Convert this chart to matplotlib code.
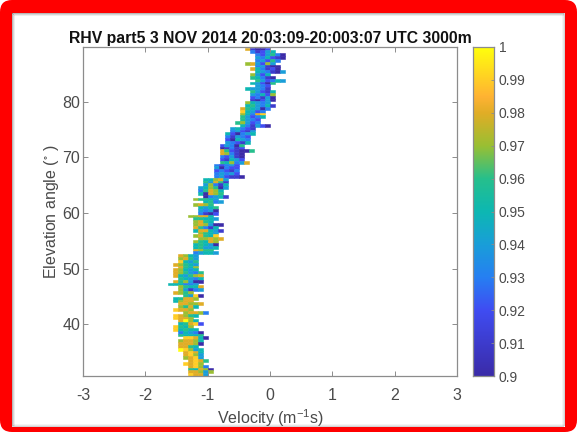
import numpy as np
import matplotlib
matplotlib.use("Agg")
import matplotlib.pyplot as plt
from matplotlib.colors import LinearSegmentedColormap, Normalize
from matplotlib.patches import FancyBboxPatch, Rectangle
from matplotlib.transforms import Affine2D

plt.rcParams['font.family'] = ['Liberation Sans', 'DejaVu Sans']
plt.rcParams['mathtext.default'] = 'regular'
plt.rcParams['axes.unicode_minus'] = False

W, H = 577, 432
title = "RHV part5 3 NOV 2014 20:03:09-20:003:07 UTC 3000m"
xlabel = "Velocity (m$^{-1}$s)"
ylabel = "Elevation angle ($^{\\circ}$ )"
x_ticks = [-3, -2, -1, 0, 1, 2, 3]
y_ticks = [40, 50, 60, 70, 80]
cbar_ticks = [0.90, 0.91, 0.92, 0.93, 0.94, 0.95, 0.96, 0.97, 0.98, 0.99, 1.00]
cbar_labels = ["0.9", "0.91", "0.92", "0.93", "0.94", "0.95", "0.96", "0.97", "0.98", "0.99", "1"]
top_elevation = 89.55
row_step = 0.51
cell_width = 0.08

# Left edge of each row (m^-1 s), top row first
row_left = [
    -0.40, -0.32, -0.24, -0.24, -0.24, -0.40, -0.24, -0.32, -0.24, -0.32,
    -0.32, -0.24, -0.32, -0.24, -0.40, -0.32, -0.32, -0.32, -0.32, -0.40,
    -0.40, -0.48, -0.48, -0.48, -0.48, -0.48, -0.56, -0.48, -0.64, -0.64,
    -0.72, -0.72, -0.72, -0.72, -0.81, -0.81,
    -0.81, -0.81, -0.81, -0.81, -0.81, -0.90, -0.90, -0.90, -0.90, -0.90,
    -1.07, -1.07, -1.07, -1.15, -1.15, -1.15, -1.07, -1.23, -1.07, -1.23,
    -1.15, -1.15, -1.15, -1.31, -1.23, -1.23, -1.23, -1.23, -1.23, -1.15,
    -1.23, -1.15, -1.23, -1.23, -1.23, -1.23, -1.23,
    -1.47, -1.47, -1.47, -1.55, -1.47,
    -1.56, -1.56, -1.56, -1.48, -1.56, -1.64, -1.48, -1.48, -1.56, -1.40,
    -1.56, -1.56, -1.48, -1.48, -1.56, -1.40, -1.56, -1.56, -1.48, -1.48,
    -1.56, -1.56, -1.48, -1.48, -1.40, -1.48, -1.48, -1.48, -1.48, -1.40,
    -1.40, -1.40, -1.32, -1.40, -1.32, -1.32, -1.32, -1.32,
]

# RHV of each cell x100, same row order
row_values = [
    [98, 91, 90, 90, 92], [93, 91, 92, 94, 95], [93, 92, 94, 96, 93, 90],
    [94, 93, 95, 92, 91, 90], [93, 94, 92, 96, 93], [97, 98, 94, 92, 97, 94],
    [93, 94, 91, 90, 90], [98, 95, 93, 91, 92, 90], [95, 94, 93, 91, 90, 94],
    [97, 94, 92, 95], [96, 95, 93, 91, 90], [96, 94, 92, 93, 95, 94],
    [95, 94, 92, 90, 96], [94, 93, 92], [95, 94, 94, 93, 91], [96, 94, 92, 91, 95],
    [94, 93, 95, 92, 97], [92, 93, 91, 94, 90], [91, 90, 92, 94, 90],
    [97, 95, 94, 93, 94], [95, 96, 94, 93, 95, 91], [98, 96, 95, 94, 90, 93],
    [99, 95, 94, 92, 93], [97, 95, 93, 98, 99], [96, 94, 92, 93, 95], [96, 94, 93, 92],
    [96, 97, 94, 92, 93], [95, 93, 91, 94, 92, 90], [94, 95, 93, 92, 91],
    [93, 94, 92, 91, 94], [95, 92, 90, 93, 94, 95], [93, 91, 94, 93, 92],
    [92, 90, 95, 94, 93], [94, 93, 92, 91, 95], [92, 94, 93, 90, 96],
    [90, 91, 93, 91, 92],
    [98, 96, 92, 91, 90, 90, 96], [98, 97, 93, 91, 90], [93, 92, 94, 91, 90],
    [92, 91, 95, 94, 92], [96, 95, 97, 93, 94, 98], [93, 92, 93, 94, 92],
    [94, 90, 93, 92, 92], [92, 93, 92, 91, 93], [93, 94, 93, 94, 92],
    [93, 94, 92, 91, 91, 90], [95, 95, 97, 98, 94], [96, 94, 98, 96, 91],
    [94, 97, 93, 91, 95], [94, 95, 97, 96, 90, 94], [93, 96, 98, 97, 95],
    [95, 90, 98, 97, 96], [90, 93, 94, 95, 91], [97, 96, 96, 95, 94],
    [95, 96, 93, 94], [97, 98, 97, 96], [95, 94, 95, 96], [94, 93, 94, 90],
    [93, 91, 90, 92], [97, 97, 98, 98, 95], [96, 96, 95, 95, 94], [97, 98, 96, 95],
    [97, 98, 97, 94, 90, 90], [98, 96, 93, 91, 95], [95, 98, 98, 95, 94, 91],
    [97, 96, 95, 94], [97, 98, 96, 95, 99], [97, 97, 98, 97, 98], [97, 96, 95, 98, 97],
    [95, 96, 95, 94, 90], [95, 96, 94, 94, 95],
    [98, 97, 96, 96],
    [93, 94, 95, 95, 94],
    [98, 97, 95, 94], [97, 98, 96, 94], [99, 95, 94, 96], [98, 97, 96, 95, 94],
    [98, 96, 95, 97],
    [98, 97, 95, 94, 95], [98, 97, 96, 94, 93, 96], [98, 95, 94, 96, 97, 98],
    [96, 95, 94, 93, 95], [98, 96, 97, 94, 90, 90], [95, 95, 95, 93, 93, 94],
    [97, 96, 95, 95, 98], [97, 94, 91, 93, 94], [98, 97, 96, 97],
    [96, 94, 99, 90], [95, 96, 98, 98, 97], [95, 97, 98, 98], [98, 98, 97, 97, 98],
    [97, 96, 98, 95], [99, 98, 98, 97], [97, 98, 98, 97, 93], [99, 98, 97, 96, 95],
    [99, 98, 98, 97], [98, 100, 97, 95], [95, 96, 98, 99, 92], [99, 96, 95, 97],
    [99, 95, 96, 95, 95], [93, 95, 94, 93, 90], [96, 95, 95, 95, 96],
    [99, 99, 98, 95, 90], [97, 98, 98, 97, 95], [98, 98, 98, 97, 90],
    [98, 98, 96, 95], [100, 99, 97, 94, 95], [98, 99, 98, 95], [98, 99, 97, 94],
    [97, 98, 99, 94], [98, 99, 98, 96], [99, 98, 99, 97], [98, 99, 97, 93],
    [96, 95, 98, 97, 90], [98, 98, 97, 94, 97], [99, 98, 98, 94],
]

cmap_stops = [0.0, 0.2, 0.3, 0.4, 0.5, 0.6, 0.7, 0.8, 0.85, 0.9, 1.0]
cmap_colors = [
    (0.23, 0.17, 0.66), (0.25, 0.30, 0.95), (0.15, 0.50, 0.95), (0.10, 0.62, 0.85),
    (0.05, 0.72, 0.70), (0.15, 0.75, 0.55), (0.60, 0.75, 0.20), (0.88, 0.68, 0.15),
    (1.00, 0.70, 0.20), (1.00, 0.80, 0.15), (1.00, 1.00, 0.05),
]
parula = LinearSegmentedColormap.from_list("parula_like", list(zip(cmap_stops, cmap_colors)), N=256)
norm = Normalize(0.9, 1.0)

fig = plt.figure(figsize=(W / 100, H / 100), dpi=100, facecolor="white")
px = Affine2D().scale(1 / W, -1 / H).translate(0, 1) + fig.transFigure

fig.add_artist(FancyBboxPatch((0, 0), W, H, boxstyle="round,pad=0,rounding_size=12",
                              fc="#ff0000", ec="none", transform=px, zorder=-5))
fig.add_artist(Rectangle((12, 13), 553, 414, fc="white", ec="none", transform=px, zorder=-4))
for i, a in enumerate([0.28, 0.16, 0.07]):
    fig.add_artist(Rectangle((12 + i, 13 + i), 1, 413 - i, fc="black", alpha=a, ec="none", transform=px, zorder=-3))
    fig.add_artist(Rectangle((12 + i, 13 + i), 552 - i, 1, fc="black", alpha=a, ec="none", transform=px, zorder=-3))
    fig.add_artist(Rectangle((564 - i, 13 + i), 1, 413 - i, fc="black", alpha=a * 0.6, ec="none", transform=px, zorder=-3))
    fig.add_artist(Rectangle((12 + i, 426 - i), 552 - i, 1, fc="black", alpha=a * 0.6, ec="none", transform=px, zorder=-3))

def axes_px(l, t, r, b):
    return fig.add_axes([l / W, 1 - b / H, (r - l) / W, (b - t) / H])

ax = axes_px(83, 47, 457, 376)
text_gray = "#4a4a4a"
line_gray = "#8c8c8c"
for i, (left, vals) in enumerate(zip(row_left, row_values)):
    e = top_elevation - i * row_step
    for j, v in enumerate(vals):
        c = parula(norm(v / 100))
        ax.barh(e, cell_width, height=row_step, left=left + j * cell_width,
                color=c, edgecolor=c, linewidth=0.4)

ax.set_xlim(-3, 3)
ax.set_ylim(30.65, 89.9)
ax.set_xticks(x_ticks)
ax.set_yticks(y_ticks)
ax.tick_params(direction="in", length=3.5, width=0.7, top=True, right=True, color=line_gray,
               labelcolor=text_gray, labelsize=11.5)
ax.tick_params(axis="x", pad=9)
ax.tick_params(axis="y", pad=2)
for s in ax.spines.values():
    s.set_linewidth(0.9)
    s.set_color(line_gray)
ax.set_xlabel(xlabel, fontsize=11.5, color=text_gray, labelpad=3)
ax.set_ylabel(ylabel, fontsize=11.5, color=text_gray, labelpad=1)
ax.set_title(title, fontsize=11.3, fontweight="bold", color="#111111", pad=3)

cax = axes_px(473, 47, 494, 376)
grad = np.linspace(0.9, 1.0, 256).reshape(-1, 1)
cax.imshow(grad, origin="lower", aspect="auto", cmap=parula, norm=norm,
           extent=[0, 1, 0.9, 1.0])
cax.set_xticks([])
cax.yaxis.tick_right()
cax.set_yticks(cbar_ticks)
cax.set_yticklabels(cbar_labels)
cax.tick_params(direction="in", length=2.5, width=0.6, color=line_gray, labelcolor=text_gray,
                labelsize=10, pad=3.5)
for s in cax.spines.values():
    s.set_linewidth(0.9)
    s.set_color(line_gray)

fig.savefig("out.png", dpi=100)
